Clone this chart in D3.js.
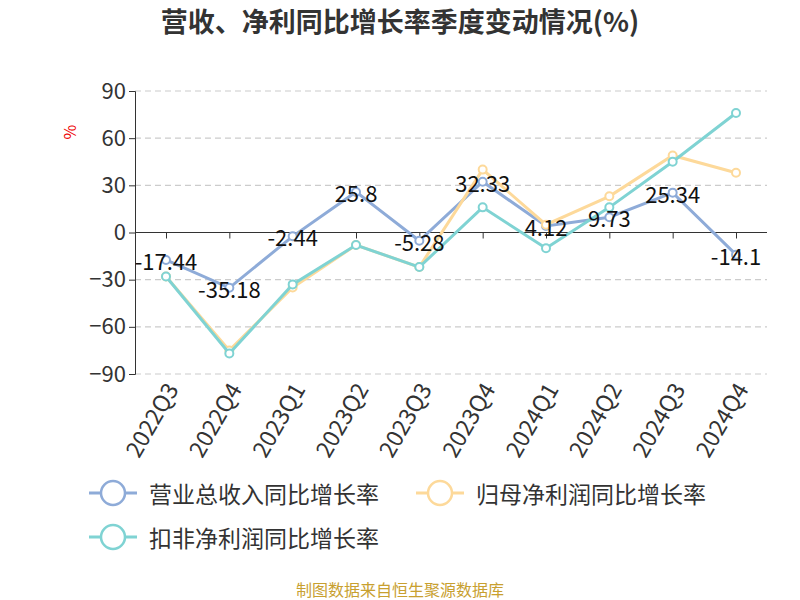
<!DOCTYPE html>
<html><head><meta charset="utf-8">
<script src="https://cdn.jsdelivr.net/npm/d3@7"></script>
<style>body{margin:0;background:#fff}text{font-family:"Noto Sans CJK SC","Noto Sans",sans-serif}</style>
</head><body><div id="chart"></div>
<script>
const categories = ["2022Q3","2022Q4","2023Q1","2023Q2","2023Q3","2023Q4","2024Q1","2024Q2","2024Q3","2024Q4"];
const revenue = [-17.44,-35.18,-2.44,25.8,-5.28,32.33,4.12,9.73,25.34,-14.1];
const netProfit = [-28,-75,-35,-8,-22,40,5,23,49,38];
const deducted = [-28,-77,-33,-8,-22,16,-10,16,45,76];
const yTicks = [-90,-60,-30,0,30,60,90];
const seriesNames = ["营业总收入同比增长率","归母净利润同比增长率","扣非净利润同比增长率"];
const colors = ["#8eabd8","#fdd99a","#7fd3d3"];

const width = 800, height = 600;
const svg = d3.select("#chart").append("svg").attr("width", width).attr("height", height);

const x = d3.scalePoint().domain(categories).range([166, 736]);
const y = d3.scaleLinear().domain([-90, 90]).range([374, 91]);

svg.append("text").attr("x", 400).attr("y", 32).attr("text-anchor", "middle")
  .attr("font-size", 27).attr("font-weight", "bold").attr("fill", "#333")
  .text("营收、净利同比增长率季度变动情况(%)");

svg.append("g").selectAll("line").data(yTicks).enter().append("line")
  .attr("x1", 135).attr("x2", 767).attr("y1", d => y(d)).attr("y2", d => y(d))
  .attr("stroke", "#ccc").attr("stroke-dasharray", "6,4").attr("stroke-width", 1.2);

const yAxis = svg.append("g").attr("transform", "translate(135,0)")
  .call(d3.axisLeft(y).tickValues(yTicks).tickSize(6));
yAxis.selectAll("text").attr("font-size", 22).attr("fill", "#333");
yAxis.selectAll("line,path").attr("stroke", "#333");

const xAxis = svg.append("g").attr("transform", `translate(0,${y(0)})`)
  .call(d3.axisBottom(x).tickSize(6).tickFormat(""));
xAxis.select("path").attr("d", "M135,0H767");
xAxis.selectAll("line,path").attr("stroke", "#333");

svg.append("g").selectAll("text").data(categories).enter().append("text")
  .attr("transform", d => `translate(${x(d)+8},${y(-90)+12}) rotate(-60)`)
  .attr("text-anchor", "end").attr("dominant-baseline", "middle")
  .attr("font-size", 23).attr("fill", "#333").text(d => d);

svg.append("text").attr("transform", "translate(76,132) rotate(-90)")
  .attr("text-anchor", "middle").attr("font-size", 16).attr("fill", "#e00").text("%");

const line = d3.line().x((d, i) => x(categories[i])).y(d => y(d));
[revenue, netProfit, deducted].forEach((s, k) => {
  svg.append("path").datum(s).attr("d", line).attr("fill", "none")
    .attr("stroke", colors[k]).attr("stroke-width", 3);
  svg.append("g").selectAll("circle").data(s).enter().append("circle")
    .attr("cx", (d, i) => x(categories[i])).attr("cy", d => y(d)).attr("r", 4)
    .attr("fill", "#fff").attr("stroke", colors[k]).attr("stroke-width", 2);
});

svg.append("g").selectAll("text").data(revenue).enter().append("text")
  .attr("x", (d, i) => x(categories[i])).attr("y", d => y(d))
  .attr("text-anchor", "middle").attr("dominant-baseline", "central")
  .attr("font-size", 22).attr("fill", "#111").text(d => d);

const legendPos = [[113, 493], [440, 493], [113, 537]];
seriesNames.forEach((n, k) => {
  const [lx, ly] = legendPos[k];
  const g = svg.append("g");
  g.append("line").attr("x1", lx - 24).attr("x2", lx + 24).attr("y1", ly).attr("y2", ly)
    .attr("stroke", colors[k]).attr("stroke-width", 3);
  g.append("circle").attr("cx", lx).attr("cy", ly).attr("r", 12)
    .attr("fill", "#fff").attr("stroke", colors[k]).attr("stroke-width", 2.5);
  g.append("text").attr("x", lx + 36).attr("y", ly).attr("dominant-baseline", "central")
    .attr("font-size", 23).attr("fill", "#333").text(n);
});

svg.append("text").attr("x", 400).attr("y", 596).attr("text-anchor", "middle")
  .attr("font-size", 16).attr("fill", "#c8a030").text("制图数据来自恒生聚源数据库");
</script></body></html>
